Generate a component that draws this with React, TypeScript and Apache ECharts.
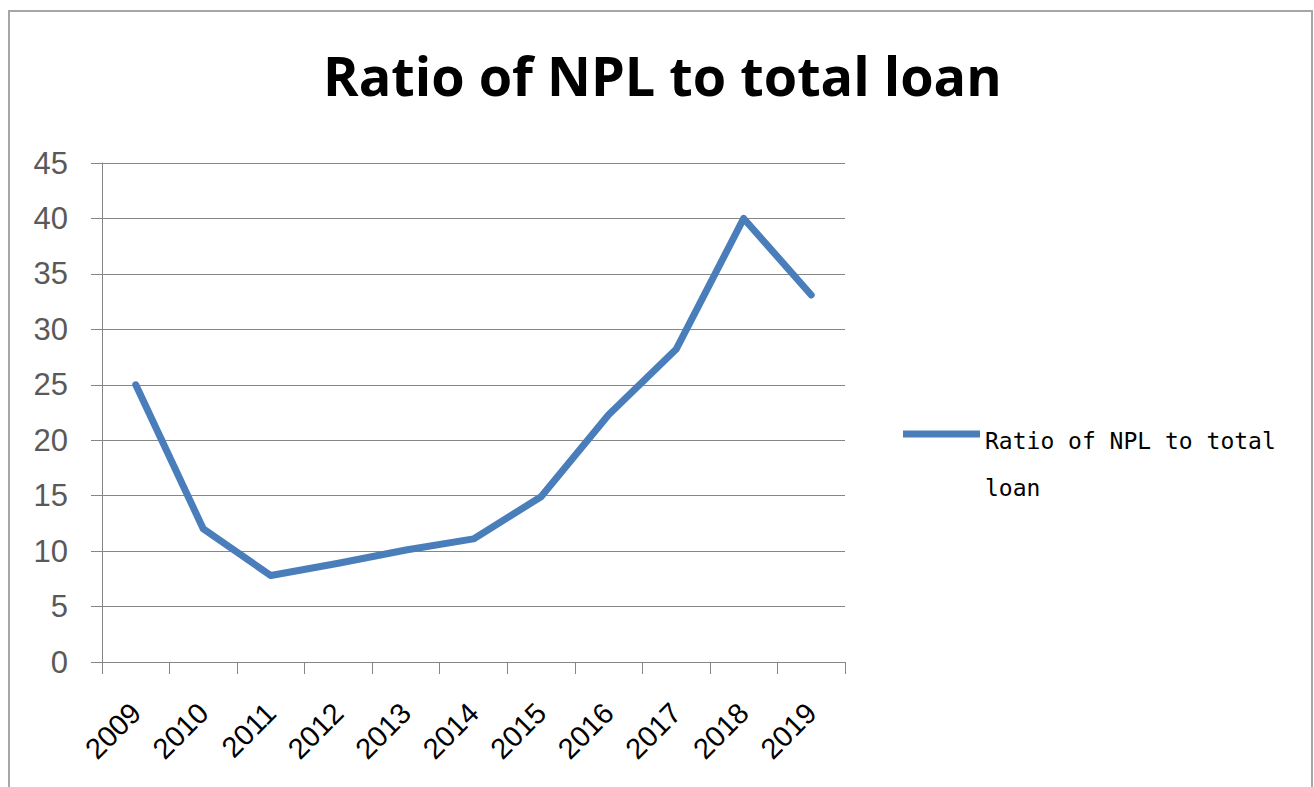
import React, { useEffect, useRef } from "react";
import * as echarts from "echarts";

const titleText = "Ratio of NPL to total loan";
const seriesName = "Ratio of NPL to total loan";
const years = ["2009", "2010", "2011", "2012", "2013", "2014", "2015", "2016", "2017", "2018", "2019"];
const ratioValues = [25, 12, 7.8, 8.9, 10.1, 11.1, 14.9, 22.3, 28.2, 40, 33.1];

export default function App() {
  const ref = useRef<HTMLDivElement>(null);
  useEffect(() => {
    if (!ref.current) return;
    const chart = echarts.init(ref.current, null, { renderer: "svg" });
    chart.setOption({
      animation: false,
      backgroundColor: "#ffffff",
      title: {
        text: titleText,
        left: 318,
        top: 43,
        textStyle: {
          fontFamily: "Open Sans",
          fontWeight: "bold",
          fontSize: 54,
          color: "#000000",
        },
      },
      graphic: [
        {
          type: "rect",
          shape: { x: 9, y: 11, width: 1303, height: 800 },
          style: { fill: "none", stroke: "#a6a6a6", lineWidth: 2 },
          silent: true,
        },
      ],
      legend: {
        orient: "vertical",
        left: 898,
        top: 424,
        itemWidth: 77,
        itemHeight: 14,
        icon: "path://M0,0 L77,0 L77,7 L0,7 Z",
        formatter: () => "{a|Ratio of NPL to total}\n{b|loan}",
        textStyle: {
          fontFamily: "DejaVu Sans Mono",
          fontSize: 23,
          color: "#000000",
          rich: {
            a: {
              fontFamily: "DejaVu Sans Mono",
              fontSize: 23,
              color: "#000000",
              lineHeight: 40,
              verticalAlign: "bottom",
            },
            b: {
              fontFamily: "DejaVu Sans Mono",
              fontSize: 23,
              color: "#000000",
              lineHeight: 4,
              verticalAlign: "top",
              padding: [24, 0, 0, 0],
            },
          },
        },
        data: [{ name: seriesName, itemStyle: { color: "#4a7ebb" } }],
      },
      grid: { left: 102, right: 469, top: 163, bottom: 125, containLabel: false },
      xAxis: {
        type: "category",
        data: years,
        boundaryGap: true,
        axisLine: { lineStyle: { color: "#868686", width: 1 } },
        axisTick: { show: true, length: 12, alignWithLabel: false, interval: 0, lineStyle: { color: "#868686" } },
        axisLabel: {
          rotate: 45,
          interval: 0,
          margin: 46,
          fontFamily: "Liberation Sans",
          fontSize: 29,
          color: "#000000",
        },
        splitLine: { show: false },
      },
      yAxis: {
        type: "value",
        min: 0,
        max: 45,
        interval: 5,
        axisLine: { show: true, lineStyle: { color: "#868686", width: 1 } },
        axisTick: { show: true, length: 11, lineStyle: { color: "#868686" } },
        axisLabel: {
          margin: 34,
          fontFamily: "Liberation Sans",
          fontSize: 31,
          color: "#595959",
        },
        splitLine: { show: true, lineStyle: { color: "#868686", width: 1 } },
      },
      series: [
        {
          name: seriesName,
          type: "line",
          data: ratioValues,
          showSymbol: false,
          symbol: "none",
          lineStyle: { color: "#4a7ebb", width: 7, cap: "round", join: "round" },
          itemStyle: { color: "#4a7ebb" },
        },
      ],
    });
    return () => chart.dispose();
  }, []);
  return (
    <div
      ref={ref}
      style={{ position: "fixed", left: 0, top: 0, width: 1314, height: 787 }}
    />
  );
}
